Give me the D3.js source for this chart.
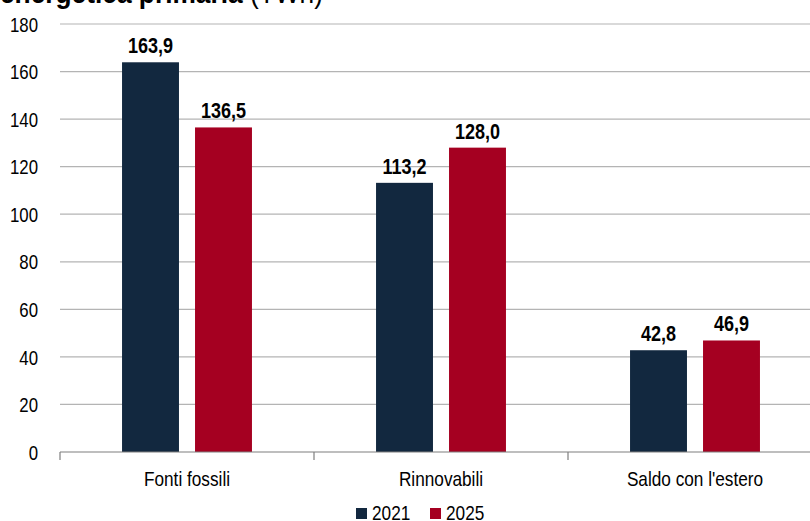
<!DOCTYPE html>
<html><head><meta charset="utf-8">
<script src="https://cdn.jsdelivr.net/npm/d3@7"></script>
<style>
html,body{margin:0;padding:0;background:#fff;}
svg{display:block;}
text{font-family:"Liberation Sans Narrow","Arial Narrow","Liberation Sans",Arial,sans-serif;}
</style></head><body>
<svg id="chart" width="810" height="521"></svg>
<script>
const categories = ["Fonti fossili", "Rinnovabili", "Saldo con l'estero"];
const seriesNames = ["2021", "2025"];
const values2021 = [163.9, 113.2, 42.8];
const values2025 = [136.5, 128.0, 46.9];
const yTicks = [0, 20, 40, 60, 80, 100, 120, 140, 160, 180];
const colors = ["#12283f", "#a50021"];
const titleBold = "energetica primaria";
const titleUnit = " (TWh)";

const svg = d3.select("#chart");
const mLeft = 60, mRight = 822, mTop = 24, mBottom = 452;
const SX = 0.82; // narrow-font emulation

function narrow(sel) {
  sel.each(function() {
    const el = d3.select(this);
    const xv = +(el.attr("x") || 0);
    el.attr("transform", `translate(${xv},0) scale(${SX},1) translate(${-xv},0)`);
  });
}

const x = d3.scaleBand().domain(categories).range([mLeft, mRight]).paddingInner(0).paddingOuter(0);
const xs = d3.scaleBand().domain(seriesNames).range([0, x.bandwidth()]).paddingInner(0.22).paddingOuter(0.85);
const y = d3.scaleLinear().domain([0, 180]).range([mBottom, mTop]);

// title (cut off at top)
const t = svg.append("text").attr("x", 0).attr("y", 3).attr("font-size", 30).attr("fill", "#000");
t.append("tspan").attr("font-weight", "bold").text(titleBold);
t.append("tspan").text(titleUnit);
const tl = t.node().getComputedTextLength();
t.attr("transform", `scale(${323 / tl},1)`);

// grid
svg.append("g").selectAll("line").data(yTicks.filter(d => d > 0)).join("line")
  .attr("x1", mLeft).attr("x2", 810).attr("y1", d => y(d)).attr("y2", d => y(d))
  .attr("stroke", "#b4b4b4").attr("stroke-width", 1.2);

// y axis labels
const yAxis = d3.axisLeft(y).tickValues(yTicks).tickSize(0).tickPadding(0).tickFormat(d3.format("d"));
const ya = svg.append("g").attr("transform", `translate(${mLeft - 22},0)`).call(yAxis);
ya.select(".domain").remove();
ya.selectAll("text").attr("font-size", 20.5).attr("fill", "#000").attr("font-family", null).attr("dy", "0.35em").call(narrow);

const seriesVals = [values2021, values2025];
const data = [];
categories.forEach((c, i) => seriesNames.forEach((s, j) => data.push({c, s, v: seriesVals[j][i], j})));

const fmt = v => d3.format(".1f")(v).replace(".", ",");

svg.append("g").selectAll("rect").data(data).join("rect")
  .attr("x", d => x(d.c) + xs(d.s)).attr("width", xs.bandwidth())
  .attr("y", d => y(d.v)).attr("height", d => y(0) - y(d.v))
  .attr("fill", d => colors[d.j]);

svg.append("g").selectAll("text").data(data).join("text")
  .attr("x", d => x(d.c) + xs(d.s) + xs.bandwidth() / 2)
  .attr("y", d => y(d.v) - 9)
  .attr("text-anchor", "middle").attr("font-size", 22).attr("font-weight", "bold").attr("fill", "#000")
  .text(d => fmt(d.v)).call(narrow);

// x axis
const xAxis = d3.axisBottom(x).tickSize(0).tickPadding(0);
const xa = svg.append("g").attr("transform", `translate(0,${mBottom})`).call(xAxis);
xa.select(".domain").remove();
xa.selectAll("text").attr("font-size", 21).attr("fill", "#000").attr("font-family", null).attr("dy", null).attr("y", 34).call(narrow);
svg.append("line").attr("x1", mLeft).attr("x2", 810).attr("y1", mBottom).attr("y2", mBottom).attr("stroke", "#7f7f7f").attr("stroke-width", 1.2);
svg.append("g").selectAll("line").data(categories.map(c => x(c))).join("line")
  .attr("x1", d => d).attr("x2", d => d).attr("y1", mBottom).attr("y2", mBottom + 8)
  .attr("stroke", "#7f7f7f").attr("stroke-width", 1.2);

// legend
const legendX = [356, 430];
const lg = svg.append("g").selectAll("g").data(seriesNames).join("g")
  .attr("transform", (d, i) => `translate(${legendX[i]},508)`);
lg.append("rect").attr("x", 0).attr("y", 0).attr("width", 11).attr("height", 11).attr("fill", (d, i) => colors[i]);
lg.append("text").attr("x", 16).attr("y", 12).attr("font-size", 21).attr("fill", "#000").text(d => d).call(narrow);
</script>
</body></html>
